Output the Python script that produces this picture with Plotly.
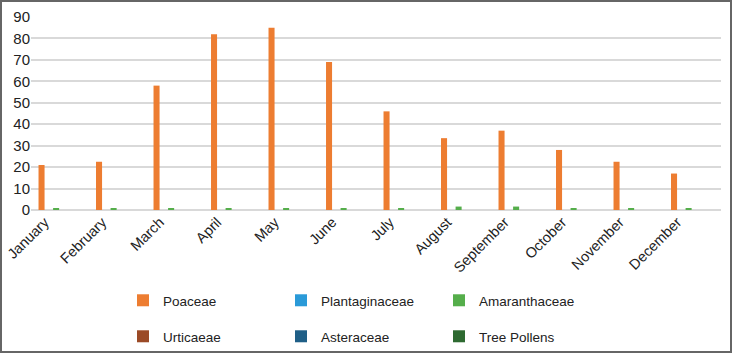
import plotly.graph_objects as go

months = ["January", "February", "March", "April", "May", "June", "July",
          "August", "September", "October", "November", "December"]
poaceae = [21, 22.5, 58, 82, 85, 69, 46, 33.5, 37, 28, 22.5, 17]
plantaginaceae = [0, 0, 0, 0, 0, 0, 0, 0, 0, 0, 0, 0]
amaranthaceae = [0.6, 0.6, 0.6, 0.6, 0.6, 0.6, 0.6, 1.6, 1.6, 0.6, 0.6, 0.6]
urticaeae = [0, 0, 0, 0, 0, 0, 0, 0, 0, 0, 0, 0]
asteraceae = [0, 0, 0, 0, 0, 0, 0, 0, 0, 0, 0, 0]
tree_pollens = [0, 0, 0, 0, 0, 0, 0, 0, 0, 0, 0, 0]
y_ticks = [0, 10, 20, 30, 40, 50, 60, 70, 80, 90]

series = [
    ("Poaceae", poaceae, "#ED7D31", "legend"),
    ("Plantaginaceae", plantaginaceae, "#2A9AD8", "legend"),
    ("Amaranthaceae", amaranthaceae, "#55AE4B", "legend"),
    ("Urticaeae", urticaeae, "#9B4A26", "legend2"),
    ("Asteraceae", asteraceae, "#1F5F87", "legend2"),
    ("Tree Pollens", tree_pollens, "#2E6A31", "legend2"),
]

W, H = 732, 356
ml, mr, mt, mb = 31, 11, 17, 146
pw, ph = W - ml - mr, H - mt - mb

fig = go.Figure()
for name, vals, color, lg in series:
    fig.add_trace(go.Bar(x=months, y=vals, name=name, marker_color=color,
                         marker_line_width=0, legend=lg))

font = dict(family="Liberation Sans, Arial, sans-serif", size=13, color="#222222")
leg_common = dict(orientation="h", xanchor="left", yanchor="top",
                  xref="container", yref="container",
                  entrywidth=113, entrywidthmode="pixels",
                  font=dict(family="Liberation Sans, Arial, sans-serif", size=13.5, color="#222222"),
                  bgcolor="rgba(0,0,0,0)", itemclick=False)

fig.update_layout(
    width=W, height=H,
    margin=dict(l=ml, r=mr, t=mt, b=mb),
    paper_bgcolor="white", plot_bgcolor="white",
    font=font,
    barmode="group", bargap=0.24, bargroupgap=0.17,
    legend=dict(x=123 / W, y=1 - 285 / H, **leg_common),
    legend2=dict(x=123 / W, y=1 - 321 / H, **leg_common),
    xaxis=dict(tickangle=-45, showgrid=False, ticks="", showline=False, automargin=False,
               ticklabelshift=-15,
               tickfont=dict(size=14.5, color="#222222")),
    yaxis=dict(range=[0, 90], tickvals=y_ticks, showgrid=True, gridcolor="#D9D9D9",
               gridwidth=2, zeroline=True, zerolinecolor="#D9D9D9", zerolinewidth=2,
               ticks="", showline=False, automargin=False,
               tickfont=dict(size=15, color="#222222")),
    shapes=[dict(type="rect", xref="paper", yref="paper",
                 x0=-(ml - 1) / pw, x1=1 + (mr - 1) / pw,
                 y0=-(mb - 4) / ph, y1=1 + (mt - 1) / ph,
                 line=dict(color="#666666", width=2), fillcolor="rgba(0,0,0,0)")],
)

fig.write_html("out.html", config={"displayModeBar": False},
               post_script="document.body.style.margin='0';")
